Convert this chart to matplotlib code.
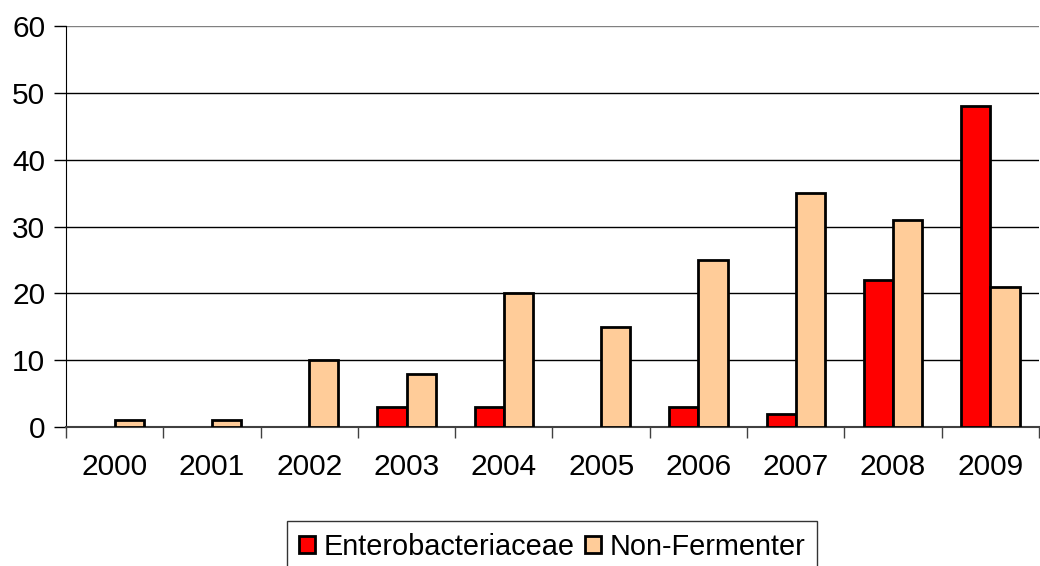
import matplotlib
matplotlib.use("Agg")
import matplotlib.pyplot as plt
import numpy as np

years = ["2000", "2001", "2002", "2003", "2004", "2005", "2006", "2007", "2008", "2009"]
entero = [0, 0, 0, 3, 3, 0, 3, 2, 22, 48]
nonferm = [1, 1, 10, 8, 20, 15, 25, 35, 31, 21]
yticks = [0, 10, 20, 30, 40, 50, 60]

plt.rcParams['font.family'] = ['Liberation Sans', 'DejaVu Sans']
FS = 21.5

fig = plt.figure(figsize=(10.4, 5.66), dpi=100)
ax = fig.add_axes([66/1040, 1-427/566, 1-66/1040 - 0.001, (427-26)/566])

x = np.arange(len(years))
w = 0.3
e = np.array(entero, dtype=float)
n = np.array(nonferm, dtype=float)
ax.bar(x - w/2, np.where(e > 0, e, np.nan), width=w, color='#ff0000', edgecolor='black',
       linewidth=2, label='Enterobacteriaceae', zorder=3)
ax.bar(x + w/2, np.where(n > 0, n, np.nan), width=w, color='#ffcc99', edgecolor='black',
       linewidth=2, label='Non-Fermenter', zorder=3)

ax.set_xlim(-0.5, len(years) - 0.5)
ax.set_ylim(0, 60)
ax.set_yticks(yticks)
ax.set_yticklabels([str(v) for v in yticks], fontsize=FS)
for v in yticks[1:]:
    ax.axhline(v, color='black' if v < 60 else '#808080', linewidth=1, zorder=1)

ax.set_xticks(np.arange(-0.5, len(years), 1.0))
ax.set_xticklabels([])
ax.set_xticks(x, minor=True)
ax.set_xticklabels(years, minor=True, fontsize=FS)
ax.tick_params(axis='x', which='minor', length=0, pad=19)
ax.tick_params(axis='x', which='major', length=8, width=1, color='#404040', direction='out')
ax.tick_params(axis='y', length=9, width=1, direction='out', pad=6)

for s in ['top', 'right']:
    ax.spines[s].set_visible(False)
ax.spines['left'].set_color('black')
ax.spines['bottom'].set_color('#404040')
ax.spines['bottom'].set_linewidth(1.5)

handles, labels = ax.get_legend_handles_labels()
leg = fig.legend(handles, labels, loc='upper center', bbox_to_anchor=(552/1040, 1-521/566), ncol=2,
                 fontsize=20.8, frameon=True, fancybox=False, edgecolor='black',
                 handlelength=0.55, handleheight=0.55, handletextpad=0.3,
                 columnspacing=0.35, borderpad=0.4, borderaxespad=0)
leg.get_frame().set_linewidth(1)

fig.savefig("out.png", dpi=100)
